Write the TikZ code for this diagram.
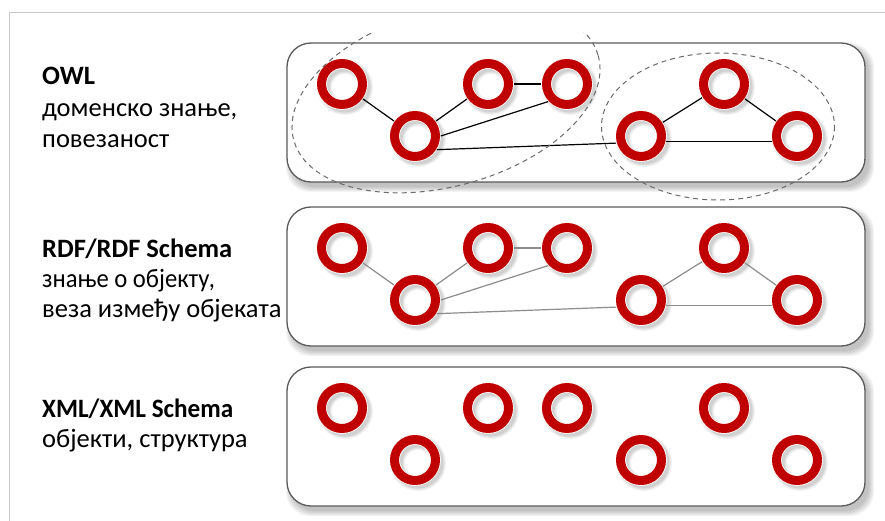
\documentclass[tikz,border=0pt]{standalone}
\usepackage{fontspec}
\setmainfont{Carlito}
\definecolor{ringred}{HTML}{C00000}
\definecolor{panelgray}{HTML}{5A5A5A}
\definecolor{linkgray}{HTML}{8C8C8C}
\definecolor{dashgray}{HTML}{6A6A6A}
\definecolor{framegray}{HTML}{C8C8C8}
\pgfdeclarelayer{panel}
\pgfdeclarelayer{shade}
\pgfsetlayers{panel,shade,main}
\begin{document}
\begin{tikzpicture}[x=1pt,y=-1pt,
  panelbox/.style={draw=panelgray, line width=1.3pt, fill=white, rounded corners=24pt},
  ring/.style={circle, inner sep=0pt, minimum size=41pt, draw=white, line width=0.8pt,
    double=ringred, double distance=9pt, outer sep=5.3pt},
  link/.style={line width=1.2pt, draw=black},
  softlink/.style={line width=1.2pt, draw=linkgray},
  sidetext/.style={anchor=base west, inner sep=0pt, font=\fontsize{26.5}{30}\selectfont},
  headtext/.style={sidetext, font=\fontsize{26.5}{30}\selectfont\bfseries},
  grouping/.style={draw=dashgray, dash pattern=on 5pt off 4pt, line width=1pt}]
\useasboundingbox (0,0) rectangle (885,521);

% outer frame
\draw[framegray, line width=1pt] (9,521) -- (9,13) -- (885,13);

% three rounded panels with soft shadows
\begin{pgfonlayer}{panel}
  \foreach \top/\bot in {43/182, 207/346, 367/506} {
    \foreach \e in {0,1,2,3,4,5}
      \fill[black, opacity=0.045, rounded corners=24pt]
        (291-\e, \top+5-\e) rectangle (869+\e, \bot+5+\e);
    \draw[panelbox] (287,\top) rectangle (865,\bot);
  }
\end{pgfonlayer}

% rings of every panel
\foreach \p/\dy in {o/0, r/164, x/324} {
  \foreach \i/\x/\y in {1/342/84, 2/415/136, 3/488/84, 4/567/84, 5/641/136, 6/724/84, 7/797/136}
    \node[ring] (\p\i) at (\x, \y+\dy) {};
}

% ring shadows
\begin{pgfonlayer}{shade}
  \foreach \p in {o,r,x} {
    \foreach \i in {1,...,7} {
      \foreach \w/\o in {15/0.05, 12.5/0.06, 10/0.08}
        \draw[black, opacity=\o, line width=\w pt] ([shift={(3,3)}]\p\i.center) circle[radius=20.5];
    }
  }
\end{pgfonlayer}

% OWL: links
\draw[link] (o1) -- (o2);
\draw[link] (o2) -- (o3);
\draw[link] (o3) -- (o4);
\draw[link] (o2.0) -- (o4.223);
\draw[link] (o2.-32) -- (o5.196);
\draw[link] (o5) -- (o6);
\draw[link] (o6) -- (o7);
\draw[link] (o5.-13) -- (o7.193);

% OWL: dashed groupings
\begin{scope}
  \clip (0,33) rectangle (885,521);
  \draw[grouping, rotate around={15.6:(446,98)}] (446,98) ellipse [x radius=158, y radius=88];
\end{scope}
\draw[grouping] (718,126.5) ellipse [x radius=116.5, y radius=73.5];

% RDF: links
\draw[softlink] (r1) -- (r2);
\draw[softlink] (r2) -- (r3);
\draw[softlink] (r3) -- (r4);
\draw[softlink] (r2.0) -- (r4.223);
\draw[softlink] (r2.-32) -- (r5.196);
\draw[softlink] (r5) -- (r6);
\draw[softlink] (r6) -- (r7);
\draw[softlink] (r5.-13) -- (r7.193);

% side captions
\node[headtext] (owlhead) at (42,85) {OWL};
\node[sidetext] (owlone) at (42,117) {доменско знање,};
\node[sidetext] (owltwo) at (42,148) {повезаност};

\node[headtext] (rdfhead) at (42,257) {RDF/RDF Schema};
\node[sidetext] (rdfone) at (42,287) {\scalebox{0.93}[1]{знање о објекту,}};
\node[sidetext] (rdftwo) at (42,317) {веза између објеката};

\node[headtext] (xmlhead) at (42,417) {\scalebox{0.95}[1]{XML/XML Schema}};
\node[sidetext] (xmlone) at (42,447) {објекти, структура};
\end{tikzpicture}
\end{document}
